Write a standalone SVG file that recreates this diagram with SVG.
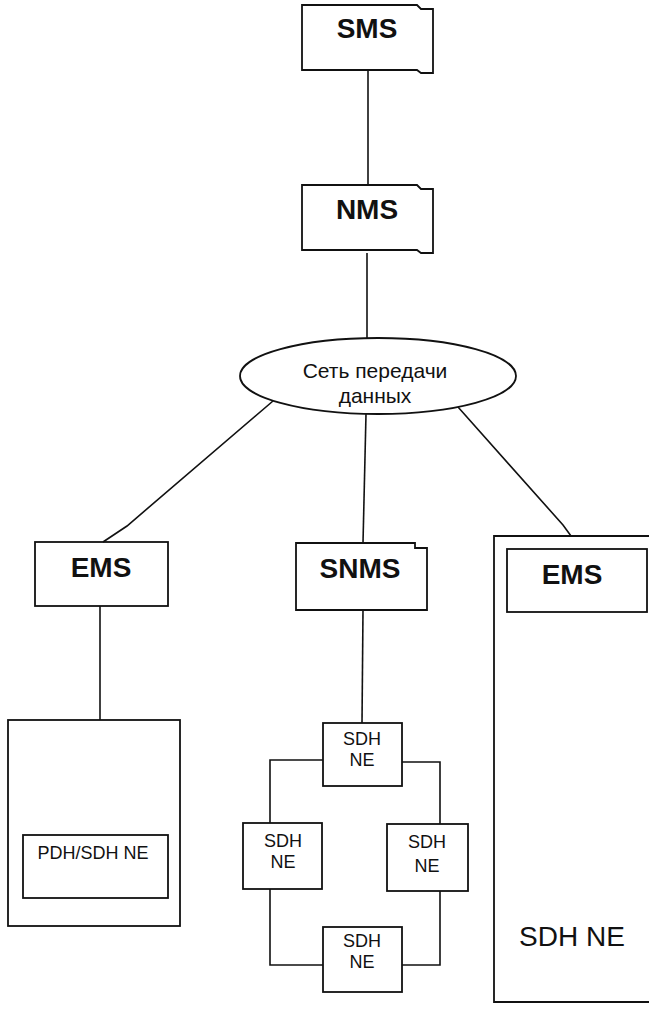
<svg xmlns="http://www.w3.org/2000/svg" width="649" height="1011" viewBox="0 0 649 1011">
<style>
.box{fill:none;stroke:#111;stroke-width:1.8}
.ln{fill:none;stroke:#111;stroke-width:1.6}
.tb{font-family:"Liberation Sans",Arial,sans-serif;font-weight:bold;fill:#111;text-anchor:middle}
.t{font-family:"Liberation Sans",Arial,sans-serif;fill:#111;text-anchor:middle}
</style>
<rect width="649" height="1011" fill="#fff"/>
<g id="connectors">
<line class="ln" x1="368" y1="71" x2="368" y2="185"/>
<line class="ln" x1="367" y1="253" x2="367" y2="338"/>
<polyline class="ln" points="273,401 127,526 103,542"/>
<line class="ln" x1="366" y1="414" x2="363" y2="543"/>
<polyline class="ln" points="458,407 563,525 571,536"/>
<line class="ln" x1="100" y1="606" x2="100" y2="720"/>
<line class="ln" x1="363" y1="610" x2="362" y2="723"/>
<polyline class="ln" points="323,760 270,760 270,823"/>
<polyline class="ln" points="402,762 440,762 440,824"/>
<polyline class="ln" points="270,889 270,965 323,965"/>
<polyline class="ln" points="440,891 440,965 402,965"/>
</g>
<g id="sms">
<path class="box" d="M302,5 H417 L421,9 H433 V73 H421 L417,70 H302 Z"/>
<text class="tb" x="367" y="38" font-size="28">SMS</text>
</g>
<g id="nms">
<path class="box" d="M302,185 H417 L421,189 H433 V253 H421 L417,250 H302 Z"/>
<text class="tb" x="367" y="219" font-size="28">NMS</text>
</g>
<g id="network">
<ellipse class="box" cx="378" cy="376" rx="138" ry="38"/>
<text class="t" x="375" y="378" font-size="21">Сеть передачи</text>
<text class="t" x="375" y="403" font-size="21">данных</text>
</g>
<g id="ems-left">
<rect class="box" x="35" y="542" width="133" height="64"/>
<text class="tb" x="101" y="577" font-size="28">EMS</text>
</g>
<g id="snms">
<path class="box" d="M296,543 H415 V548 H427 V610 H296 Z"/>
<text class="tb" x="360" y="578" font-size="28">SNMS</text>
</g>
<g id="ems-right-group">
<path class="box" d="M660,536 H494 V1002 H660"/>
<text class="t" x="572" y="946" font-size="28">SDH NE</text>
</g>
<g id="ems-right">
<rect class="box" x="507" y="549" width="140" height="63"/>
<text class="tb" x="572" y="584" font-size="28">EMS</text>
</g>
<g id="pdh-group">
<rect class="box" x="8" y="720" width="172" height="206"/>
</g>
<g id="pdh-ne">
<rect class="box" x="23" y="835" width="145" height="63"/>
<text class="t" x="93" y="859" font-size="18">PDH/SDH NE</text>
</g>
<g id="sdh-top">
<rect class="box" x="323" y="723" width="79" height="63"/>
<text class="t" x="362" y="745" font-size="18">SDH</text>
<text class="t" x="362" y="766" font-size="18">NE</text>
</g>
<g id="sdh-left">
<rect class="box" x="243" y="823" width="79" height="66"/>
<text class="t" x="283" y="847" font-size="18">SDH</text>
<text class="t" x="283" y="868" font-size="18">NE</text>
</g>
<g id="sdh-right">
<rect class="box" x="387" y="824" width="81" height="67"/>
<text class="t" x="427" y="848" font-size="18">SDH</text>
<text class="t" x="427" y="872" font-size="18">NE</text>
</g>
<g id="sdh-bottom">
<rect class="box" x="323" y="927" width="79" height="65"/>
<text class="t" x="362" y="947" font-size="18">SDH</text>
<text class="t" x="362" y="968" font-size="18">NE</text>
</g>
</svg>
